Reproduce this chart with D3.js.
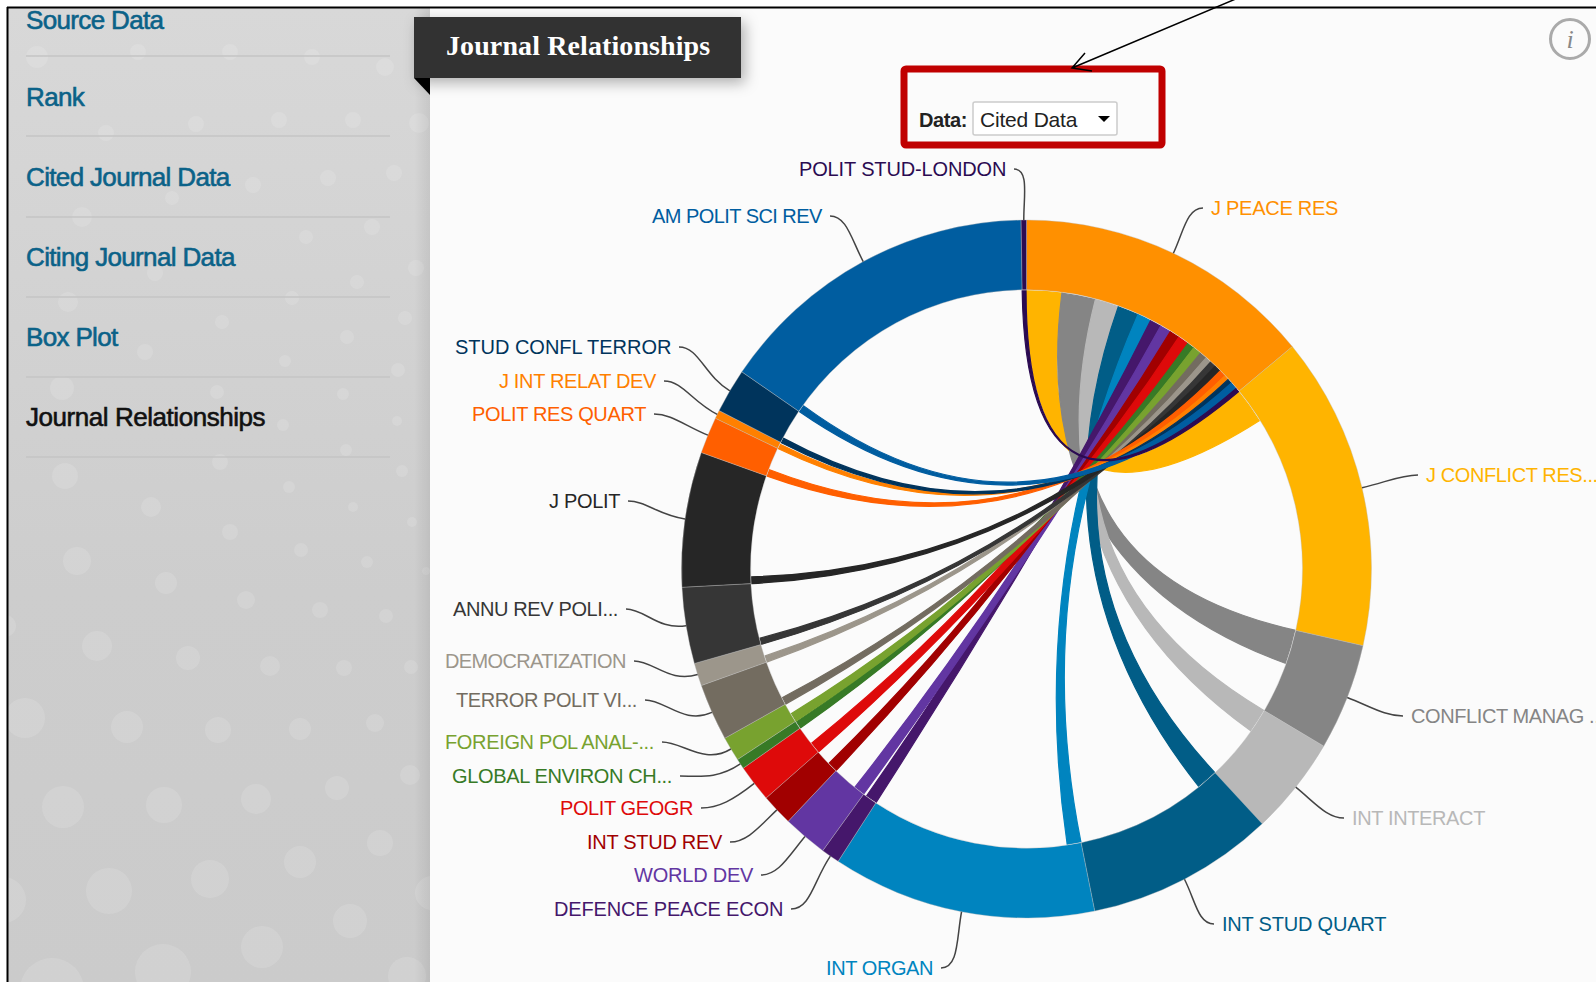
<!DOCTYPE html>
<html>
<head>
<meta charset="utf-8">
<title>Journal Relationships</title>
<script src="https://cdn.jsdelivr.net/npm/d3@7"></script>
<style>
html, body { margin: 0; padding: 0; background: #fff; overflow: hidden; }
svg { display: block; }
text { font-family: "Liberation Sans", Arial, sans-serif; }
</style>
</head>
<body>
<script>
// journals, in ring order clockwise from 12 o'clock
var journals = ["J PEACE RES", "J CONFLICT RES...", "CONFLICT MANAG ...", "INT INTERACT", "INT STUD QUART",
  "INT ORGAN", "DEFENCE PEACE ECON", "WORLD DEV", "INT STUD REV", "POLIT GEOGR", "GLOBAL ENVIRON CH...",
  "FOREIGN POL ANAL-...", "TERROR POLIT VI...", "DEMOCRATIZATION", "ANNU REV POLI...", "J POLIT",
  "POLIT RES QUART", "J INT RELAT DEV", "STUD CONFL TERROR", "AM POLIT SCI REV", "POLIT STUD-LONDON"];
var colors = ["#ff9000", "#ffb400", "#858585", "#b8b8b8", "#015d87", "#0084bf", "#45176b", "#6236a2", "#a10000",
  "#de0a0a", "#377a26", "#78a22f", "#736c60", "#9c968b", "#363636", "#262626", "#ff5f00", "#ff8000", "#00345c",
  "#005da0", "#2b0b52"];
// size of each journal's slice
var groupTotals = [504, 523, 178, 164, 317, 445, 31, 75, 53, 62, 17, 41, 95, 38, 127, 225, 61, 14, 74, 547, 9];
// ribbon from J PEACE RES to each journal
var peaceLinks = [0, 74, 71, 50, 44, 29, 24, 23, 21, 23, 15, 18, 15, 13, 13, 14, 14, 10, 10, 15, 8];

// where each label sits, page pixels: [x, y]
var labelPos = [[1211, 208], [1426, 475], [1411, 716], [1352, 818], [1222, 924], [933, 968], [783, 909], [753, 875],
  [722, 842], [693, 808], [672, 776], [654, 742], [637, 700], [626, 661], [618, 609], [620, 501], [646, 414],
  [656, 381], [671, 347], [822, 216], [1006, 169]];
// drawn width of each label; the two that run off the page keep their natural width
var labelWidth = [127, null, null, 133, 164, 107, 229, 119, 135, 133, 220, 209, 181, 181, 165, 71, 174, 157, 216, 170, 207];

var navItems = ["Source Data", "Rank", "Cited Journal Data", "Citing Journal Data", "Box Plot", "Journal Relationships"];
var navY = [20, 97, 177, 257, 337, 417];
var navRuleY = [56, 136, 217, 297, 377, 457];

// faint spots on the side panel [x, y, r]
var spots = [[37,57,11],[138,52,8],[230,52,8],[312,57,8],[385,67,9],[196,124,8],[279,120,8],[353,120,8],[419,123,10],
  [106,133,8],[328,178,8],[394,173,8],[253,185,8],[172,198,7],[82,217,10],[372,227,8],[306,237,7],[155,273,8],
  [416,268,8],[357,282,7],[68,302,10],[292,298,7],[405,318,7],[222,322,7],[347,337,7],[145,352,8],[285,361,6],
  [398,370,7],[62,388,12],[217,392,7],[343,394,6],[283,425,6],[397,421,5],
  [65,476,13],[151,507,10],[220,462,8],[289,487,6],[346,450,6],[402,471,6],[353,507,5],[412,522,5],[230,532,8],
  [301,550,7],[367,562,6],[426,571,4],[77,561,14],[166,583,11],[246,600,9],[320,610,8],[386,616,7],
  [5,626,11],[97,646,15],[188,658,12],[270,666,10],[344,668,8],[411,667,7],[25,718,20],[127,727,16],[218,730,13],
  [300,729,11],[375,723,9],[63,807,21],[164,805,18],[256,799,15],[337,788,12],[410,775,10],[109,891,23],[210,879,19],
  [300,862,16],[380,843,13],[3,900,23],[432,893,17],[262,947,21],[350,921,17],[163,972,28],[52,990,32],[407,976,19]];

var width = 1596, height = 982;
// the ring in the picture is very slightly taller than wide
var cx = 1026.5, cy = 569, outerR = 345, innerR = 276, stretchY = 1.0116;

var svg = d3.select("body").append("svg")
    .attr("width", width)
    .attr("height", height);
var defs = svg.append("defs");

var panelFill = defs.append("linearGradient").attr("id", "panelFill").attr("x2", 0).attr("y2", 1);
panelFill.append("stop").attr("offset", 0).attr("stop-color", "#d8d8d8");
panelFill.append("stop").attr("offset", 0.6).attr("stop-color", "#cdcdcd");
panelFill.append("stop").attr("offset", 1).attr("stop-color", "#cbcbcb");
var panelEdge = defs.append("linearGradient").attr("id", "panelEdge");
panelEdge.append("stop").attr("offset", 0).attr("stop-color", "#000").attr("stop-opacity", 0);
panelEdge.append("stop").attr("offset", 1).attr("stop-color", "#000").attr("stop-opacity", 0.07);
var shadow = defs.append("filter").attr("id", "shadow").attr("x", "-10%").attr("y", "-30%").attr("width", "125%").attr("height", "180%");
shadow.append("feDropShadow").attr("dx", 4).attr("dy", 5).attr("stdDeviation", 7)
    .attr("flood-color", "#000").attr("flood-opacity", 0.3);

// page and side panel
svg.append("rect").attr("width", width).attr("height", height).attr("fill", "#fff");
svg.append("rect").attr("x", 8).attr("y", 8).attr("width", width - 8).attr("height", height - 8).attr("fill", "#fbfbfb");
svg.append("rect").attr("x", 8).attr("y", 8).attr("width", 422).attr("height", height - 8).attr("fill", "url(#panelFill)");
svg.append("clipPath").attr("id", "panelClip").append("rect").attr("x", 8).attr("y", 8).attr("width", 422).attr("height", height - 8);
svg.append("g").attr("clip-path", "url(#panelClip)").selectAll("circle")
    .data(spots)
    .enter().append("circle")
    .attr("cx", function(d) { return d[0]; })
    .attr("cy", function(d) { return d[1]; })
    .attr("r", function(d) { return d[2]; })
    .attr("fill", "#fff")
    .attr("fill-opacity", 0.13);
svg.append("rect").attr("x", 414).attr("y", 8).attr("width", 16).attr("height", height - 8).attr("fill", "url(#panelEdge)");
svg.append("line").attr("x1", 7.5).attr("x2", 7.5).attr("y1", 7).attr("y2", height).attr("stroke", "#000").attr("stroke-width", 2);
svg.append("line").attr("x1", 7).attr("x2", width).attr("y1", 7.5).attr("y2", 7.5).attr("stroke", "#000").attr("stroke-width", 2);

// nav list
svg.selectAll(".nav")
    .data(navItems)
    .enter().append("text")
    .attr("class", "nav")
    .attr("x", 26)
    .attr("y", function(d, i) { return navY[i]; })
    .attr("dy", "0.35em")
    .attr("font-size", 26)
    .attr("letter-spacing", function(d) { return d == "Journal Relationships" ? -0.45 : -0.65; })
    .attr("fill", function(d) { return d == "Journal Relationships" ? "#111" : "#0b6288"; })
    .attr("stroke", function(d) { return d == "Journal Relationships" ? "#111" : "#0b6288"; })
    .attr("stroke-width", 0.6)
    .text(function(d) { return d; });
svg.selectAll(".navRule")
    .data(navRuleY)
    .enter().append("line")
    .attr("class", "navRule")
    .attr("x1", 26).attr("x2", 390)
    .attr("y1", function(d) { return d; })
    .attr("y2", function(d) { return d; })
    .attr("stroke", "#c4c4c4")
    .attr("stroke-width", 1.5);

// title tab
svg.append("path").attr("d", "M414,78 L430,78 L430,95 Z").attr("fill", "#000");
svg.append("rect").attr("x", 414).attr("y", 17).attr("width", 327).attr("height", 61)
    .attr("fill", "#333").attr("filter", "url(#shadow)");
svg.append("text").attr("x", 446).attr("y", 46).attr("dy", "0.33em")
    .style("font-family", "'Liberation Serif', serif")
    .attr("font-size", 28).attr("font-weight", "bold").attr("letter-spacing", 0.1).attr("fill", "#fff")
    .text("Journal Relationships");

// info icon
svg.append("circle").attr("cx", 1570).attr("cy", 39).attr("r", 19.5)
    .attr("fill", "none").attr("stroke", "#aaa").attr("stroke-width", 3);
svg.append("text").attr("x", 1570).attr("y", 39).attr("dy", "0.35em").attr("text-anchor", "middle")
    .style("font-family", "'Liberation Serif', serif").attr("font-style", "italic")
    .attr("font-size", 26).attr("fill", "#888").text("i");

// red callout and the data selector
svg.append("rect").attr("x", 904).attr("y", 69).attr("width", 258).attr("height", 76).attr("rx", 2)
    .attr("fill", "none").attr("stroke", "#c00000").attr("stroke-width", 7);
svg.append("text").attr("x", 919).attr("y", 120).attr("dy", "0.35em")
    .attr("font-size", 20).attr("font-weight", "bold").attr("letter-spacing", -0.4).attr("fill", "#222").text("Data:");
svg.append("rect").attr("x", 973).attr("y", 102).attr("width", 144).attr("height", 33).attr("rx", 2)
    .attr("fill", "#fff").attr("stroke", "#ccc").attr("stroke-width", 1.5);
svg.append("text").attr("x", 980).attr("y", 120).attr("dy", "0.35em")
    .attr("font-size", 21).attr("letter-spacing", -0.2).attr("fill", "#222").text("Cited Data");
svg.append("path").attr("d", "M1098,116 L1110,116 L1104,122 Z").attr("fill", "#000");

// hand drawn arrow pointing at the callout
svg.append("path").attr("d", "M1238,-2 L1072,68 M1085,53 L1072,68 L1092,71")
    .attr("fill", "none").attr("stroke", "#000").attr("stroke-width", 1.5);

// chord layout: J PEACE RES row links out to everybody, the rest of each slice sits on the diagonal
var n = journals.length;
var matrix = d3.range(n).map(function(i) {
  return d3.range(n).map(function(j) {
    if (i == 0) return peaceLinks[j];
    if (j == 0) return peaceLinks[i];
    if (j == i) return groupTotals[i] - peaceLinks[i];
    return 0;
  });
});
var chords = d3.chord().padAngle(0)(matrix);
var arc = d3.arc().innerRadius(innerR).outerRadius(outerR);
var ribbon = d3.ribbon().radius(innerR - 1);

var g = svg.append("g").attr("transform", "translate(" + cx + "," + cy + ") scale(1," + stretchY + ")");

// ribbons carry a thin stroke, it keeps the narrow ones from pinching in the middle
g.selectAll(".ribbon")
    .data(chords.filter(function(d) { return d.source.index != d.target.index; }))
    .enter().append("path")
    .attr("class", "ribbon")
    .attr("d", ribbon)
    .attr("fill", function(d) { return colors[Math.max(d.source.index, d.target.index)]; })
    .attr("stroke", function(d) { return colors[Math.max(d.source.index, d.target.index)]; })
    .attr("stroke-width", 1.2);

g.selectAll(".slice")
    .data(chords.groups)
    .enter().append("path")
    .attr("class", "slice")
    .attr("d", arc)
    .attr("fill", function(d) { return colors[d.index]; })
    .attr("stroke", "#bbb")
    .attr("stroke-opacity", 0.6)
    .attr("stroke-width", 0.6);

// leaders run from label to the middle of the slice
function leader(d) {
  var p = labelPos[d.index];
  var a = (d.startAngle + d.endAngle) / 2;
  var ux = Math.sin(a), uy = -Math.cos(a);
  var dir = ux >= 0 ? 1 : -1;
  // left side labels hang off their right end, the others off their left end
  var x0 = p[0] - cx - dir * 8, y0 = (p[1] - cy) / stretchY;
  var x1 = ux * outerR, y1 = uy * outerR;
  var dist = Math.hypot(x1 - x0, y1 - y0);
  var path = d3.path();
  path.moveTo(x0, y0);
  path.bezierCurveTo(x0 - dir * dist * 0.3, y0, x1 + ux * dist * 0.45, y1 + uy * dist * 0.45, x1, y1);
  return path.toString();
}

g.selectAll(".leader")
    .data(chords.groups)
    .enter().append("path")
    .attr("class", "leader")
    .attr("d", leader)
    .attr("fill", "none")
    .attr("stroke", "#444")
    .attr("stroke-width", 1.5);

svg.selectAll(".label")
    .data(chords.groups)
    .enter().append("text")
    .attr("class", "label")
    .attr("x", function(d) { return labelPos[d.index][0]; })
    .attr("y", function(d) { return labelPos[d.index][1]; })
    .attr("dy", "0.35em")
    .attr("text-anchor", function(d) { return (d.startAngle + d.endAngle) / 2 < Math.PI ? "start" : "end"; })
    .attr("font-size", 20)
    .attr("letter-spacing", -0.4)
    .attr("textLength", function(d) { return labelWidth[d.index]; })
    .attr("fill", function(d) { return colors[d.index]; })
    .text(function(d) { return journals[d.index]; });
</script>
</body>
</html>
